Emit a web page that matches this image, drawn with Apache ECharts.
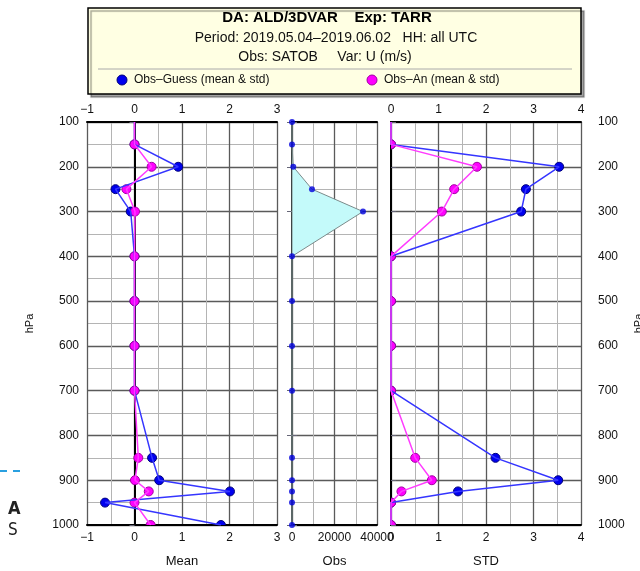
<!DOCTYPE html>
<html><head><meta charset="utf-8">
<script src="https://cdn.jsdelivr.net/npm/echarts@6/dist/echarts.min.js"></script>
<style>html,body{margin:0;padding:0;background:#fff}#c{width:640px;height:571px}</style>
</head><body><div id="c"></div>
<script>
const levels = [100,150,200,250,300,400,500,600,700,850,900,925,950,1000];
const meanGuess = [0,0,0.92,-0.40,-0.08,0,0,0,0,0.37,0.52,2.01,-0.62,1.82];
const meanAn    = [0,0,0.36,-0.17,0.01,0,0,0,0,0.08,0.01,0.30,0,0.34];
const obsCount  = [0,0,600,9400,33400,0,0,0,0,0,0,0,0,0];
const stdGuess  = [0,0,3.54,2.84,2.74,0,0,0,0,2.20,3.52,1.41,0,0];
const stdAn     = [0,0,1.81,1.33,1.07,0,0,0,0,0.51,0.86,0.22,0,0];
const yTicks = [100,1000,100];
const meanTicks = [-1,3,1];
const obsTicks = [0,40000,20000];
const stdTicks = [0,4,1];
const titleLines = ['DA: ALD/3DVAR    Exp: TARR','Period: 2019.05.04\u20132019.06.02   HH: all UTC','Obs: SATOB     Var: U (m/s)'];
const legendNames = ['Obs\u2013Guess (mean & std)','Obs\u2013An (mean & std)'];
const panelNames = ['Mean','Obs','STD'];

const FONT = 'Liberation Sans, Arial, sans-serif';
const chart = echarts.init(document.getElementById('c'));
const grids = [
  {left:87, top:122, width:190, height:403, outerBoundsMode:'none', containLabel:false},
  {left:292, top:122, width:85, height:403, outerBoundsMode:'none', containLabel:false},
  {left:391, top:122, width:190, height:403, outerBoundsMode:'none', containLabel:false}
];
const majorLine = {show:true, lineStyle:{color:'#5a5a5a', width:1.3}};
const minorLine = {show:true, lineStyle:{color:'#b4b4b4', width:1}};
const axLine = {show:true, lineStyle:{color:'#000', width:2}};
const lbl = {color:'#111', fontSize:12, fontFamily:FONT};
const fmt = v => String(v).replace('-', '\u2212');
const xs = [meanTicks, obsTicks, stdTicks];
const xAxis = [], yAxis = [];
for (let i=0;i<3;i++){
  const t = xs[i];
  xAxis.push({type:'value', gridIndex:i, min:t[0], max:t[1], interval:t[2], position:'bottom',
    name:panelNames[i], nameLocation:'middle', nameGap:30, nameTextStyle:{color:'#111', fontSize:13, fontFamily:FONT},
    axisLine:axLine, axisTick:{show:false},
    axisLabel:Object.assign({margin:7, formatter:fmt, showMinLabel:true, showMaxLabel:true}, lbl),
    splitLine:majorLine, minorTick:{show:false, splitNumber:2}, minorSplitLine:minorLine});
  xAxis.push({type:'value', gridIndex:i, min:t[0], max:t[1], interval:t[2], position:'top',
    axisLine:axLine, axisTick:{show:false},
    axisLabel:Object.assign({show:i!==1, margin:6, formatter:fmt}, lbl),
    splitLine:{show:false}});
  yAxis.push({type:'value', gridIndex:i, inverse:true, min:yTicks[0], max:yTicks[1], interval:yTicks[2], position:'left',
    name: i===0 ? 'hPa' : '', nameLocation:'middle', nameGap:52, nameTextStyle:{color:'#111', fontSize:11, fontFamily:FONT},
    axisLine:axLine, axisTick:{show:i!==2, length:5, lineStyle:{color:'#667'}},
    axisLabel:Object.assign({show:i===0, margin:8, formatter:fmt}, lbl),
    splitLine:majorLine, minorTick:{show:false, splitNumber:2}, minorSplitLine:minorLine});
  yAxis.push({type:'value', gridIndex:i, inverse:true, min:yTicks[0], max:yTicks[1], interval:yTicks[2], position:'right',
    name: i===2 ? 'hPa' : '', nameLocation:'middle', nameGap:52, nameTextStyle:{color:'#111', fontSize:11, fontFamily:FONT},
    axisLine:axLine, axisTick:{show:i!==0, length:5, lineStyle:{color:'#667'}},
    axisLabel:Object.assign({show:i===2, margin:17, formatter:fmt}, lbl),
    splitLine:{show:false}});
}
const pairs = arr => arr.map((v,k)=>[v, levels[k]]);
function lineOnly(data, gi, lineColor){
  return {type:'line', xAxisIndex:gi*2, yAxisIndex:gi*2, data:pairs(data), symbol:'none', clip:true, z:5,
    lineStyle:{color:lineColor, width:1.5}};
}
function markers(data, gi, color, border){
  return {type:'custom', xAxisIndex:gi*2, yAxisIndex:gi*2, data:pairs(data), clip:true, z:5,
    renderItem:(params, api) => {
      if (params.dataIndex === 0) return null;
      const p = api.coord([api.value(0), api.value(1)]);
      return {type:'circle', shape:{cx:p[0], cy:p[1], r:4.5}, style:{fill:color, stroke:border, lineWidth:1}};
    }};
}
const series = [
  lineOnly(meanGuess, 0, '#3535ff'),
  markers(meanGuess, 0, '#0000ee', '#00007a'),
  lineOnly(meanAn, 0, '#ff3cff'),
  markers(meanAn, 0, '#ff00ff', '#a000a0'),
  {type:'custom', xAxisIndex:2, yAxisIndex:2, data:[0], z:3,
    renderItem:(params, api) => ({type:'polygon',
      shape:{points: obsCount.map((v,k)=>api.coord([v, levels[k]]))},
      style:{fill:'#c4fafa', stroke:'#7a8a8a', lineWidth:1}})},
  {type:'scatter', xAxisIndex:2, yAxisIndex:2, data:pairs(obsCount), symbolSize:6, z:5, clip:false,
    itemStyle:{color:'#0000dd'}},
  lineOnly(stdGuess, 2, '#3535ff'),
  markers(stdGuess, 2, '#0000ee', '#00007a'),
  lineOnly(stdAn, 2, '#ff3cff'),
  markers(stdAn, 2, '#ff00ff', '#a000a0')
];

const T = (x, y, text, font, color, align) => ({type:'text', x:x, y:y, z:11,
  style:{text:text, font:font, fill:color, align:align || 'left', verticalAlign:'middle'}});
const graphic = [
  {type:'rect', shape:{x:88, y:8, width:493, height:86}, z:10,
    style:{fill:'#ffffe3', stroke:'#000', lineWidth:1.5, shadowColor:'rgba(0,0,0,0.35)', shadowOffsetX:3, shadowOffsetY:3, shadowBlur:1}},
  T(327, 18, titleLines[0], 'bold 15px '+FONT, '#000', 'center'),
  T(336, 38, titleLines[1], '14px '+FONT, '#111', 'center'),
  T(325, 57, titleLines[2], '14px '+FONT, '#111', 'center'),
  {type:'line', z:11, shape:{x1:98, y1:69, x2:572, y2:69}, style:{stroke:'#aaa', lineWidth:1}},
  {type:'circle', z:11, shape:{cx:122, cy:80, r:5}, style:{fill:'#0000ee', stroke:'#00007a', lineWidth:1}},
  T(134, 80, legendNames[0], '12px '+FONT, '#111'),
  {type:'circle', z:11, shape:{cx:372, cy:80, r:5}, style:{fill:'#ff00ff', stroke:'#a000a0', lineWidth:1}},
  T(384, 80, legendNames[1], '12px '+FONT, '#111'),
  {type:'line', z:11, shape:{x1:0, y1:471, x2:20, y2:471}, style:{stroke:'#2aa0e0', lineWidth:2, lineDash:[7,6]}},
  T(8, 509, 'A', 'bold 18px DejaVu Sans Condensed, DejaVu Sans, sans-serif', '#222'),
  T(8, 531, 'S', '17px DejaVu Sans Condensed, DejaVu Sans, sans-serif', '#222')
];
chart.setOption({animation:false, grid:grids, xAxis:xAxis, yAxis:yAxis, series:series, graphic:graphic});
</script></body></html>
